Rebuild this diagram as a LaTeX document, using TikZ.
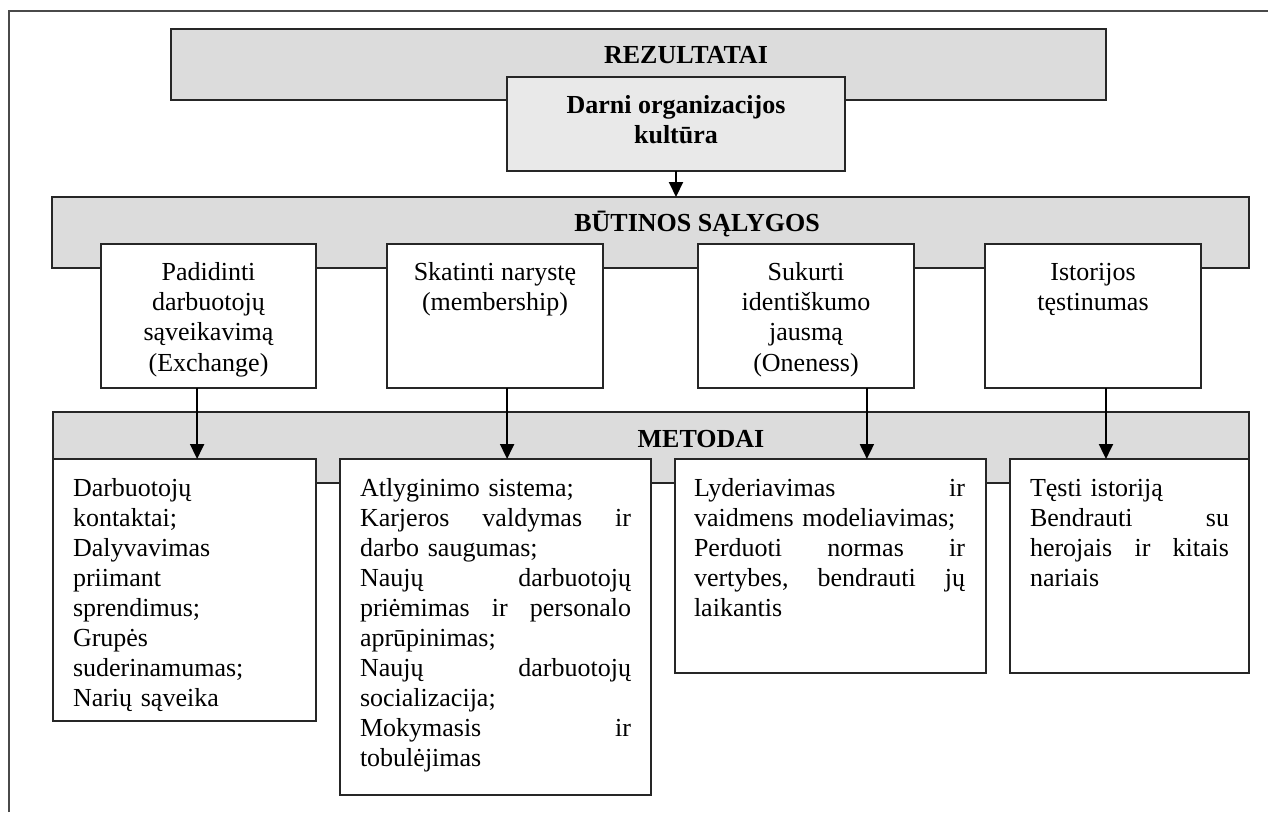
\documentclass[tikz,border=0pt]{standalone}
\usepackage{fontspec}
\setmainfont{Liberation Serif}
\usetikzlibrary{arrows.meta,calc}
\definecolor{barfill}{HTML}{DCDCDC}
\definecolor{keyfill}{HTML}{E9E9E9}
\definecolor{edgeclr}{HTML}{262626}
\definecolor{frameclr}{HTML}{4A4A4A}
% invisible strut fixing the height of a first line
\newcommand\lnstrut{\rule{0pt}{20pt}}
\begin{document}
\begin{tikzpicture}[x=1pt,y=-1pt,
  every node/.style={inner sep=0pt, outer sep=0pt},
  edged/.style={draw=edgeclr, line width=2pt},
  bar/.style={edged, fill=barfill, anchor=north west},
  keybox/.style={edged, fill=keyfill, anchor=north west},
  box/.style={edged, fill=white, anchor=north west},
  title/.style={font=\fontsize{26}{30}\selectfont\bfseries, anchor=base},
  keytext/.style={font=\fontsize{26}{30}\selectfont\bfseries, align=center, anchor=north},
  condtext/.style={font=\fontsize{26}{30.4}\selectfont, align=center, anchor=north},
  bodytext/.style={font=\fontsize{26}{30}\selectfont, align=left, anchor=north west},
  arr/.style={draw=black, line width=2pt, -{Triangle[width=14pt,length=15pt]}},
]
% page and outer frame
\fill[white] (0,0) rectangle (1268,812);
\useasboundingbox (0,0) rectangle (1268,812);
\draw[frameclr, line width=2.5pt] (9,812) -- (9,11) -- (1268,11);

% results
\node[bar, minimum width=935pt, minimum height=71pt] (rez) at (171,29) {};
\node[title] (rezt) at (686,63) {REZULTATAI};
\node[keybox, minimum width=338pt, minimum height=94pt] (darni) at (507,77) {};
\node[keytext] (darnit) at (676,93) {\lnstrut Darni organizacijos\\kultūra};

% necessary conditions
\node[bar, minimum width=1197pt, minimum height=71pt] (but) at (52,197) {};
\node[title] (butt) at (697,231) {BŪTINOS SĄLYGOS};
\draw[arr] (darni.south) -- (darni.south |- but.north);

\node[box, minimum width=215pt, minimum height=144pt] (c1) at (101,244) {};
\node[box, minimum width=216pt, minimum height=144pt] (c2) at (387,244) {};
\node[box, minimum width=216pt, minimum height=144pt] (c3) at (698,244) {};
\node[box, minimum width=216pt, minimum height=144pt] (c4) at (985,244) {};
\node[condtext] (c1t) at (208.5,260) {\lnstrut Padidinti\\darbuotojų\\sąveikavimą\\(Exchange)};
\node[condtext] (c2t) at (495,260) {\lnstrut Skatinti narystę\\(membership)};
\node[condtext] (c3t) at (806,260) {\lnstrut Sukurti\\identiškumo\\jausmą\\(Oneness)};
\node[condtext] (c4t) at (1093,260) {\lnstrut Istorijos\\tęstinumas};

% methods
\node[bar, minimum width=1196pt, minimum height=71pt] (met) at (53,412) {};
\node[title] (mett) at (701,447) {METODAI};

\node[box, minimum width=263pt, minimum height=262pt] (m1) at (53,459) {};
\node[box, minimum width=311pt, minimum height=336pt] (m2) at (340,459) {};
\node[box, minimum width=311pt, minimum height=214pt] (m3) at (675,459) {};
\node[box, minimum width=239pt, minimum height=214pt] (m4) at (1010,459) {};

\node[bodytext, text width=223pt] (m1t) at (73,476) {\lnstrut Darbuotojų\\
kontaktai;\\
Dalyvavimas\\
priimant\\
sprendimus;\\
Grupės\\
suderinamumas;\\
Narių sąveika};
\node[bodytext, text width=271pt] (m2t) at (360,476) {\lnstrut Atlyginimo sistema;\\
Karjeros\hfill valdymas\hfill ir\\
darbo saugumas;\\
Naujų\hfill darbuotojų\\
priėmimas\hfill ir\hfill personalo\\
aprūpinimas;\\
Naujų\hfill darbuotojų\\
socializacija;\\
Mokymasis\hfill ir\\
tobulėjimas};
\node[bodytext, text width=271pt] (m3t) at (694,476) {\lnstrut Lyderiavimas\hfill ir\\
vaidmens modeliavimas;\\
Perduoti\hfill normas\hfill ir\\
vertybes,\hfill bendrauti\hfill jų\\
laikantis};
\node[bodytext, text width=199pt] (m4t) at (1030,476) {\lnstrut Tęsti istoriją\\
Bendrauti\hfill su\\
herojais\hfill ir\hfill kitais\\
nariais};

% connectors from each condition to its methods
\coordinate (a1) at ($(c1.south west)!0.447!(c1.south east)$);
\coordinate (a2) at ($(c2.south west)!0.556!(c2.south east)$);
\coordinate (a3) at ($(c3.south west)!0.782!(c3.south east)$);
\coordinate (a4) at ($(c4.south west)!0.560!(c4.south east)$);
\draw[arr] (a1) -- (a1 |- m1.north);
\draw[arr] (a2) -- (a2 |- m2.north);
\draw[arr] (a3) -- (a3 |- m3.north);
\draw[arr] (a4) -- (a4 |- m4.north);
\end{tikzpicture}
\end{document}
